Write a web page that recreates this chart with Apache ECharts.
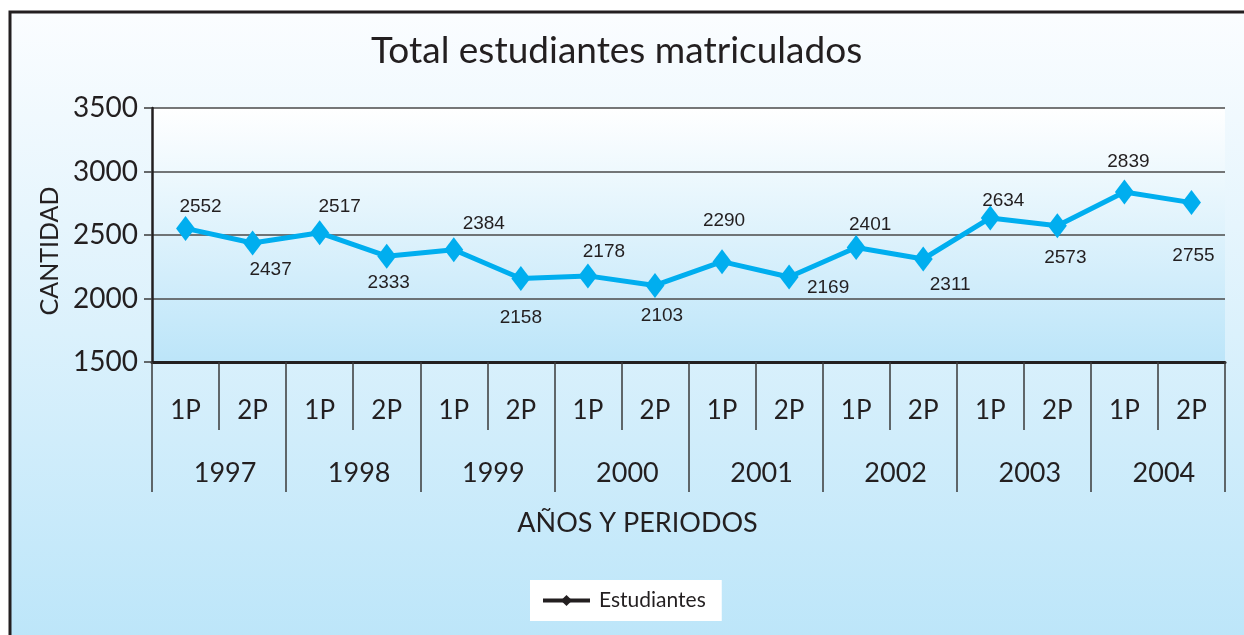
<!DOCTYPE html>
<html>
<head>
<meta charset="utf-8">
<script src="https://cdn.jsdelivr.net/npm/echarts@6/dist/echarts.min.js"></script>
<style>
  html, body { margin: 0; padding: 0; background: #fff; }
  #chart { width: 1244px; height: 635px; }
</style>
</head>
<body>
<div id="chart"></div>
<script>
// datos del grafico
const periods = ['1P', '2P', '1P', '2P', '1P', '2P', '1P', '2P', '1P', '2P', '1P', '2P', '1P', '2P', '1P', '2P'];
const years = ['1997', '1998', '1999', '2000', '2001', '2002', '2003', '2004'];
const estudiantes = [2552, 2437, 2517, 2333, 2384, 2158, 2178, 2103, 2290, 2169, 2401, 2311, 2634, 2573, 2839, 2755];
const yTicks = [1500, 2000, 2500, 3000, 3500];

// desplazamiento de cada etiqueta respecto al punto
const labelOffsets = [
  [15, -22], [18, 27], [20, -26], [2, 27], [30, -26], [0, 39], [16, -24], [7, 30],
  [2, -41], [39, 11], [14, -23], [27, 26], [13, -17], [8, 32], [4, -30], [2, 53]
];

const FONT = 'Lato, "Noto Sans", sans-serif';
const TXT = '#231f20';

const chart = echarts.init(document.getElementById('chart'));

const option = {
  animation: false,
  backgroundColor: '#ffffff',
  graphic: [
    {
      type: 'rect',
      z: -10,
      shape: { x: 10, y: 12, width: 1260, height: 640 },
      style: {
        fill: new echarts.graphic.LinearGradient(0, 0, 0, 1, [
          { offset: 0, color: '#fbfdff' },
          { offset: 1, color: '#bbe5f9' }
        ]),
        stroke: '#231f20',
        lineWidth: 3
      }
    }
  ],
  title: {
    text: 'Total estudiantes matriculados',
    left: 366,
    top: 28,
    textStyle: { fontFamily: FONT, fontSize: 37, fontWeight: 'normal', color: TXT }
  },
  legend: {
    left: 530,
    top: 580,
    padding: [10, 16, 10, 11],
    backgroundColor: '#ffffff',
    itemWidth: 47,
    itemHeight: 14,
    itemGap: 14,
    textStyle: { fontFamily: FONT, fontSize: 21, color: TXT, padding: [0, 0, 0, 4] },
    data: [{
      name: 'Estudiantes',
      itemStyle: { color: TXT },
      lineStyle: { color: TXT, width: 4 }
    }]
  },
  grid: {
    left: 152,
    right: 19,
    top: 108,
    bottom: 273,
    show: true,
    borderWidth: 0,
    backgroundColor: new echarts.graphic.LinearGradient(0, 0, 0, 1, [
      { offset: 0, color: '#ffffff' },
      { offset: 1, color: '#bce5f9' }
    ])
  },
  xAxis: [
    {
      type: 'category',
      data: periods,
      position: 'bottom',
      axisLine: { show: true, lineStyle: { color: TXT, width: 3 } },
      axisTick: { show: true, length: 68, lineStyle: { color: '#3a3a3a', width: 1.5 } },
      axisLabel: { margin: 36, fontFamily: FONT, fontSize: 26, color: TXT },
      splitLine: { show: false }
    },
    {
      type: 'category',
      data: years,
      position: 'bottom',
      name: 'AÑOS Y PERIODOS',
      nameLocation: 'middle',
      nameGap: 148,
      nameTextStyle: { fontFamily: FONT, fontSize: 27, color: TXT, padding: [0, 102, 0, 0] },
      axisLine: { show: false },
      axisTick: { show: true, length: 130, lineStyle: { color: '#3a3a3a', width: 1.5 } },
      axisLabel: { margin: 98, fontFamily: FONT, fontSize: 27, color: TXT, padding: [0, 0, 0, 12] },
      splitLine: { show: false }
    }
  ],
  yAxis: {
    type: 'value',
    min: yTicks[0],
    max: yTicks[yTicks.length - 1],
    interval: 500,
    name: 'CANTIDAD',
    nameLocation: 'middle',
    nameGap: 86,
    nameTextStyle: { fontFamily: FONT, fontSize: 25, color: TXT, padding: [0, 32, 0, 0] },
    axisLine: { show: true, lineStyle: { color: TXT, width: 2.5 } },
    axisTick: { show: true, length: 8, lineStyle: { color: '#3a3a3a', width: 1.5 } },
    axisLabel: {
      margin: 14, fontFamily: FONT, fontSize: 28, color: TXT,
      formatter: (v) => String(v)
    },
    splitLine: { show: true, lineStyle: { color: '#4a4a4a', width: 1.5 } }
  },
  series: [
    {
      name: 'Estudiantes',
      type: 'line',
      xAxisIndex: 0,
      data: estudiantes.map((v, i) => ({
        value: v,
        label: { offset: labelOffsets[i] }
      })),
      symbol: 'diamond',
      symbolSize: [19, 25],
      lineStyle: { color: '#00aeef', width: 5 },
      itemStyle: { color: '#00aeef' },
      label: {
        show: true,
        position: 'inside',
        fontFamily: '"Liberation Sans", Arial, sans-serif',
        fontSize: 19,
        color: TXT
      }
    }
  ]
};

chart.setOption(option);
</script>
</body>
</html>
